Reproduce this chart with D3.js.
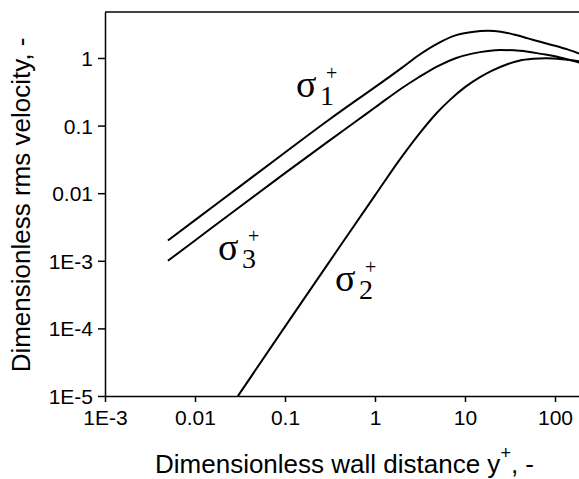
<!DOCTYPE html>
<html>
<head>
<meta charset="utf-8">
<script src="https://cdn.jsdelivr.net/npm/d3@7"></script>
<style>
  body { margin: 0; background: #fff; }
  svg { display: block; }
</style>
</head>
<body>
<svg id="chart" width="579" height="479"></svg>
<script>
// values (log-log)
var yPlus13 = [0.005, 0.01, 0.03, 0.1, 0.3, 0.6, 1, 2, 3, 5, 8, 12, 18, 25, 35, 50, 70, 100, 140, 190];
var sigma1  = [0.002, 0.004, 0.012, 0.04, 0.119, 0.23, 0.37, 0.72, 1.08, 1.65, 2.18, 2.42, 2.52, 2.45, 2.22, 1.95, 1.72, 1.52, 1.33, 1.15];
var sigma3  = [0.001, 0.002, 0.006, 0.0198, 0.058, 0.113, 0.185, 0.36, 0.51, 0.76, 1.0, 1.16, 1.27, 1.31, 1.3, 1.24, 1.15, 1.06, 0.95, 0.85];
var yPlus2  = [0.03, 0.1, 0.3, 1, 2, 3.16, 5, 6.81, 10, 14.7, 20, 29, 40, 57, 80, 120, 190];
var sigma2  = [1.0e-5, 1.06e-4, 9.0e-4, 0.0093, 0.035, 0.078, 0.16, 0.24, 0.37, 0.52, 0.65, 0.8, 0.91, 0.97, 0.99, 0.96, 0.89];

var xTicks = [1e-3, 1e-2, 1e-1, 1, 10, 100]
  , xTickLabels = ["1E-3", "0.01", "0.1", "1", "10", "100"]
  , yTicks = [1e-5, 1e-4, 1e-3, 1e-2, 1e-1, 1]
  , yTickLabels = ["1E-5", "1E-4", "1E-3", "0.01", "0.1", "1"]
  ;

(function () {
  var svg = d3.select("#chart")
    , plotLeft = 105, plotBottom = 396, plotTop = 12
    , decadeX = 90
    ;

  var x = d3.scaleLog().domain([1e-3, Math.pow(10, 2.6)]).range([plotLeft, plotLeft + decadeX * 5.6])
    , y = d3.scaleLog().domain([1e-5, Math.pow(10, 0.68)]).range([plotBottom, plotTop])
    ;

  var sans = "'Liberation Sans', Arial, sans-serif"
    , serif = "'Liberation Serif', 'Times New Roman', serif"
    ;

  svg.append("defs").append("clipPath").attr("id", "plot")
    .append("rect").attr("x", plotLeft).attr("y", plotTop)
    .attr("width", 600).attr("height", plotBottom - plotTop);

  var line = d3.line()
    .x(function (d) { return x(d[0]); })
    .y(function (d) { return y(d[1]); })
    .curve(d3.curveMonotoneX);

  var series = [
    d3.zip(yPlus13, sigma1),
    d3.zip(yPlus13, sigma3),
    d3.zip(yPlus2, sigma2)
  ];

  svg.append("g").attr("clip-path", "url(#plot)")
    .selectAll("path").data(series).enter().append("path")
      .attr("d", line)
      .attr("fill", "none")
      .attr("stroke", "#000")
      .attr("stroke-width", 2);

  // frame top
  svg.append("line")
    .attr("x1", plotLeft).attr("x2", 579).attr("y1", plotTop).attr("y2", plotTop)
    .attr("stroke", "#000").attr("stroke-width", 1.5);

  var gx = svg.append("g").attr("transform", "translate(0," + plotBottom + ")")
    .call(d3.axisBottom(x).tickValues(xTicks)
      .tickFormat(function (d, i) { return xTickLabels[i]; })
      .tickSize(6).tickSizeOuter(0).tickPadding(8));

  var gy = svg.append("g").attr("transform", "translate(" + plotLeft + ",0)")
    .call(d3.axisLeft(y).tickValues(yTicks)
      .tickFormat(function (d, i) { return yTickLabels[i]; })
      .tickSize(7).tickSizeOuter(0).tickPadding(5));

  [gx, gy].forEach(function (g) {
    g.attr("font-family", sans).attr("font-size", 21);
    g.selectAll("path, line").attr("stroke", "#000").attr("stroke-width", 1.5);
    g.selectAll("text").attr("fill", "#000");
  });
  gy.selectAll("text").attr("dy", "0.36em");

  // axis titles
  var xt = svg.append("text")
    .attr("x", 155).attr("y", 473)
    .attr("font-family", sans).attr("font-size", 26);
  xt.append("tspan").text("Dimensionless wall distance y");
  xt.append("tspan").attr("font-size", 18).attr("dy", -14).text("+");
  xt.append("tspan").attr("dy", 14).text(", -");

  svg.append("text")
    .attr("transform", "translate(30,205) rotate(-90)")
    .attr("text-anchor", "middle")
    .attr("font-family", sans).attr("font-size", 26)
    .text("Dimensionless rms velocity, -");

  // sigma labels
  var labels = [
    { sub: "1", x: 296, y: 97 },
    { sub: "3", x: 218, y: 260 },
    { sub: "2", x: 335, y: 291 }
  ];

  labels.forEach(function (l) {
    var t = svg.append("text").attr("font-family", serif).attr("fill", "#000");
    t.append("tspan").attr("x", l.x).attr("y", l.y).attr("font-size", 38).text("\u03c3");
    t.append("tspan").attr("x", l.x + 24).attr("y", l.y + 8).attr("font-size", 28).text(l.sub);
    t.append("tspan").attr("x", l.x + 30).attr("y", l.y - 17).attr("font-size", 20).text("+");
  });
})();
</script>
</body>
</html>
